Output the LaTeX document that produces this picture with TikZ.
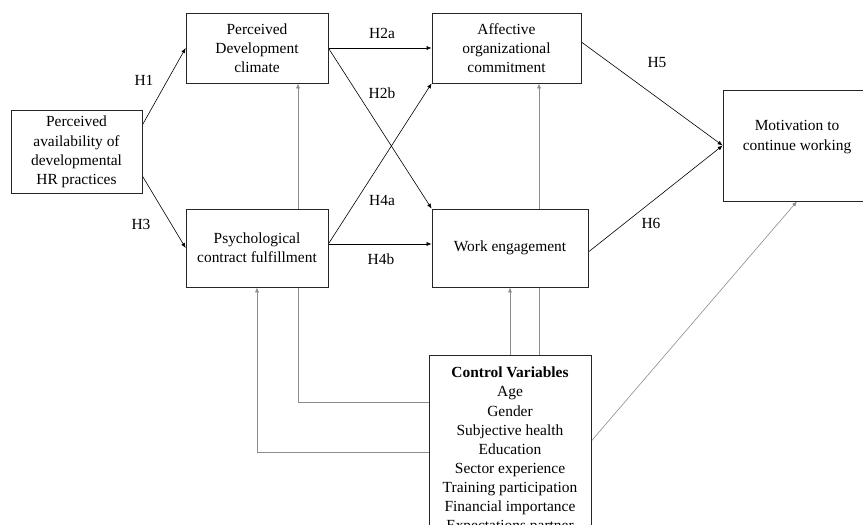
\documentclass[tikz,border=0pt]{standalone}
\usepackage{fontspec}
\setmainfont{Liberation Serif}
\usetikzlibrary{arrows.meta,calc}
\pgfdeclarelayer{bg}
\pgfsetlayers{bg,main}
\begin{document}
\begin{tikzpicture}[x=1bp,y=-1bp,
  font=\fontsize{15.5}{19.3}\selectfont,
  box/.style={draw=black!85, line width=0.7bp, fill=white, align=center, inner sep=2bp},
  hyp/.style={draw=black, line width=0.6bp, -{Latex[length=5bp,width=4bp]}},
  ctrl/.style={draw=black!45, line width=0.6bp, -{Latex[length=5bp,width=4bp]}},
  lab/.style={inner sep=0pt}]
\useasboundingbox (0,0) rectangle (863,525);
\clip (0,0) rectangle (863,525);
% boxes
\node[box, minimum width=131bp, minimum height=83bp] (hr) at (76.5,152)
  {Perceived\\availability of\\developmental\\HR practices};
\path (hr.north west) ++(0,0);
\node[box, minimum width=142bp, minimum height=70bp] (pdc) at (257,48)
  {Perceived\\Development\\climate};
\node[box, minimum width=149bp, minimum height=70bp] (aff) at (506.5,48)
  {Affective\\organizational\\commitment};
\node[box, minimum width=142bp, minimum height=78bp] (pcf) at (257,248)
  {Psychological\\contract fulfillment};
\node[box, minimum width=156bp, minimum height=78bp] (we) at (510,248)
  {Work engagement};
\node[box, minimum width=148bp, minimum height=111bp] (mot) at (797,145.5) {};
\node[lab, align=center] (motlabel) at (797,137) {Motivation to\\continue working};
\node[box, anchor=north, minimum width=162bp, minimum height=190bp, inner ysep=1.5bp,
  font=\fontsize{15.5}{19.1}\selectfont] (cv) at (510,355)
  {\textbf{Control Variables}\\Age\\Gender\\Subjective health\\Education\\Sector experience\\Training participation\\Financial importance\\Expectations partner};
% connectors
\begin{pgfonlayer}{bg}
\draw[hyp] ([yshift=27bp]hr.east) -- (pdc.west);
\draw[hyp] ([yshift=-24bp]hr.east) -- (pcf.west);
\draw[hyp] (pdc.east) -- (aff.west);
\draw[hyp] (pdc.east) -- (we.north west);
\draw[hyp] ([yshift=4bp]pcf.east) -- (aff.south west);
\draw[hyp] ([yshift=4bp]pcf.east) -- ([yshift=4bp]we.west);
\draw[hyp] ([yshift=6bp]aff.east) -- (mot.west);
\draw[hyp] ([yshift=-4bp]we.east) -- (mot.west);
% control paths
\coordinate (k1) at (298,402);
\coordinate (k2) at (257,452);
\coordinate (k3) at (539,300);
\draw[ctrl] (cv.west |- k1) -- (k1) -- (k1 |- pdc.south);
\draw[ctrl] (cv.west |- k2) -- (k2) -- (pcf.south);
\draw[ctrl] (cv.north) -- (we.south);
\draw[ctrl] (cv.north -| k3) -- (aff.south -| k3);
\draw[ctrl] ([yshift=-86bp]cv.north east) -- (mot.south);
\end{pgfonlayer}
% labels
\node[lab] (h1) at (144,80) {H1};
\node[lab] (h3) at (141,224) {H3};
\node[lab] (h2a) at (382,33) {H2a};
\node[lab] (h2b) at (382,93) {H2b};
\node[lab] (h4a) at (382,200) {H4a};
\node[lab] (h4b) at (381,259) {H4b};
\node[lab] (h5) at (657,63) {H5};
\node[lab] (h6) at (651,223) {H6};
\end{tikzpicture}
\end{document}
